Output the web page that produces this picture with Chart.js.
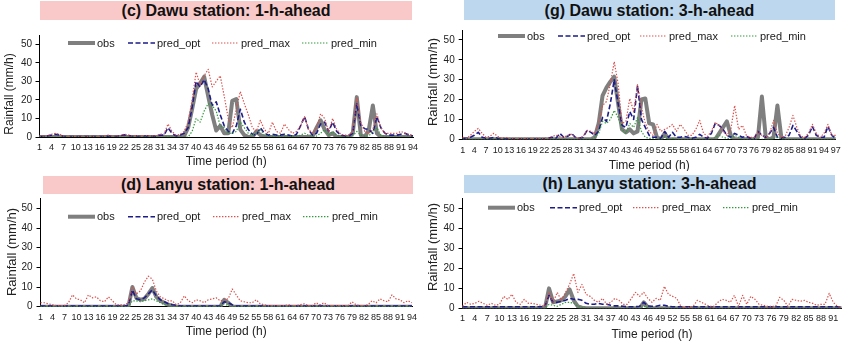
<!DOCTYPE html>
<html>
<head>
<meta charset="utf-8">
<script src="https://cdn.jsdelivr.net/npm/chart.js@4/dist/chart.umd.min.js"></script>
<style>
  html, body { margin: 0; padding: 0; background: #fff; }
  #wrap { position: relative; width: 850px; height: 342px; overflow: hidden;
          font-family: "Liberation Sans", Arial, sans-serif; }
  #wrap canvas { position: absolute; }
  .ttl { position: absolute; z-index: 2; font-weight: bold; font-size: 16px;
         text-align: center; color: #111; white-space: nowrap; }
</style>
</head>
<body>
<div id="wrap">
  <div class="ttl" style="left:40px;top:1px;width:372px;height:19px;line-height:20px;background:#f9c9c9">(c) Dawu station: 1-h-ahead</div>
  <div class="ttl" style="left:464px;top:0px;width:371px;height:20px;line-height:21px;background:#bdd7ee">(g) Dawu station: 3-h-ahead</div>
  <div class="ttl" style="left:43px;top:176px;width:370px;height:18px;line-height:18px;background:#f9c9c9">(d) Lanyu station: 1-h-ahead</div>
  <div class="ttl" style="left:464px;top:175px;width:371px;height:18px;line-height:18px;background:#bdd7ee">(h) Lanyu station: 3-h-ahead</div>
  <canvas id="cvC" width="425" height="171" style="left:0;top:0"></canvas>
  <canvas id="cvG" width="425" height="171" style="left:425px;top:0"></canvas>
  <canvas id="cvD" width="425" height="171" style="left:0;top:171px"></canvas>
  <canvas id="cvH" width="425" height="171" style="left:425px;top:171px"></canvas>
</div>
<script>
// ---- Hourly rainfall (mm/h) ----

// Dawu station, 1-h-ahead (94 h)
const dawu1Obs = [
  0,0,0,0,0,0,0,0,0,0,
  0,0,0,0,0,0,0,0,0,0,
  0,0,0,0,0,0,0,0,0,0,
  0,0,0,0,0,0,0.5,5,15,26,
  29,32.5,22,12,3.5,6,2,2,19.5,20.5,
  4,1,0,0,3,1,0,0,0,0,
  0,0,0,0,0,0,0,0,0.5,5,
  9,4,1,2,0,0,0,0,2,21.5,
  1,0,4,17,2,0,0,0,0,0,
  0,0,0,0
];
const dawu1Opt = [
  0.3,0.3,0.5,1,1.5,1,0.3,0.2,0.2,0.2,
  0.2,0.2,0.2,0.2,0.2,0.2,0.3,0.5,0.3,0.3,
  0.5,1.2,1,0.3,0.5,0.3,0.5,0.5,0.3,0.5,
  1,1,5,2,0.5,1,2,5,16,30,
  27,31,26,17,19,12,6,3,2,6,
  15,8,4,1.5,1,5,2,1,1.5,1,
  1,1.5,1,0.5,1.5,6,11,4,1,2,
  7,8,3,8,3,1,0.5,0.5,2,18,
  6,4.5,4,2,11,5,2,1,1,1,
  1.5,2,1,0.5
];
const dawu1Max = [
  0.5,0.5,0.8,1.5,2,1.5,0.5,0.3,0.3,0.3,
  0.3,0.3,0.3,0.3,0.3,0.3,0.5,1,0.5,0.5,
  0.8,1.5,1.2,0.5,0.8,0.5,0.8,0.8,0.5,0.8,
  1.5,1.5,7,3,1,1.5,3,8,20,35,
  28,33,36.5,27,30,33,22,10,5,15,
  24.5,18,12,5,3,9,4,2,8,3,
  2,7,4,2,3,6,11,4,2,5,
  12.5,10,3,10,4,1.5,1,1,3,21.5,
  8,3,2,4,12.5,5,2,2,2,2,
  3,2,1.5,1
];
const dawu1Min = [
  0,0,0,0,0,0,0,0,0,0,
  0,0,0,0,0,0,0,0,0,0,
  0,0,0,0,0,0,0,0,0,0,
  0,0,0.5,0,0,0,0,0,3,10,
  8,14,18,17,14,6,5,2,2,3,
  8,5,2,1,2,4,1,0.5,0.5,0.5,
  0.5,0.5,0.5,0.3,0.5,1,2,1,0.3,0.5,
  2,4,1,3,1,0.3,0,0,0.5,3,
  1,0.5,0.5,3,5,1,0.3,0,0,0,
  0,0,0,0
];

// Dawu station, 3-h-ahead (97 h)
const dawu3Obs = [
  0,0,0,0,0,0,0,0,0,0,
  0,0,0,0,0,0,0,0,0,0,
  0,0,0,0,0,0,0,0,0,0,
  0,0,0,0,1,8,22,26,29,31.5,
  18,5,3.5,5,3,4,20,20.5,8,7.5,
  1,0,3,0,0,0,0,0,0,0,
  0,0,0,0,0,0,3,6,9,2,
  0,0,0,0,0,0,1,21.5,1,0,
  1,17,1,0,0,0,0,0,0,0,
  0,0,0,0,0,0,0
];
const dawu3Opt = [
  0.5,0.5,1,2,3.5,1,0.5,0.5,1,0.5,
  0.3,0.3,0.3,0.3,0.3,0.3,0.3,0.3,0.3,0.3,
  0.3,0.3,0.5,1,0.5,3,1,1.5,3,1,
  0.5,1,4.5,3.5,2,4,11,9,18,30,
  18,7,6,14,10,27,10,6,2,1,
  1,0.5,4,1,3.5,1,1,1.5,1,0.5,
  1,2.5,1,0.5,3,8,7,5,2,1,
  3,2,1,1.5,0.5,0.5,4,2,1,3,
  6,1,0.5,1,2,7,4,1,0.5,2,
  6.5,2,1,1,6.5,2,0.5
];
const dawu3Max = [
  1,0.5,2,4,5.5,3,1,1.5,3,1.5,
  0.5,1,0.5,0.5,0.5,0.5,0.5,0.5,0.5,0.5,
  0.5,0.5,0.5,1.5,2,1.5,1,2,2.5,1,
  0.5,1.5,4.5,4,3,8,17,19,28,39,
  28,8,9,20.5,14,27.5,16,8,4,2,
  7.5,4,5,6,7.5,4,7.5,5,2,2,
  5,9.5,3,1.5,4,8.5,7,4,2,5,
  17,5,7,2,1,1,4,2,1,3,
  9.5,3,1,1.5,6,12,6,1.5,1,3,
  7.5,3,1,3,7.5,2,2
];
const dawu3Min = [
  0,0,0,0,0,0,0,0,0,0,
  0,0,0,0,0,0,0,0,0,0,
  0,0,0,0,0,0,0,0,0,0,
  0,0,0,0,1,3,9,8,10,14.5,
  11,5,3,8,6,11,4,1,0.5,0.3,
  0,0,1,0,0.5,0,0,0,0,0,
  0,0,0,0,0,1,2,1,0.5,0.5,
  2,1,0,0,0,0,0,0,0,0,
  0.5,1,0.3,0,0,0,0,0,0,0,
  0,0,0,0,0,0,0
];

// Lanyu station, 1-h-ahead (94 h)
const lanyu1Obs = [
  0,0,0,0,0,0,0,0,0,0,
  0,0,0,0,0,0,0,0,0,0,
  0,0,0,10,4.5,3.5,4,6.5,9.5,5,
  3,2,1,0.5,0,0,0,0,0,0,
  0,0,0,0,0,0,3.5,2,0,0,
  0,0,0,0,0,0,0,0,0,0,
  0,0,0,0,0,0,0,0,0,0,
  0,0,0,0,0,0,0,0,0,0,
  0,0,0,0,0,0,0,0,0,0,
  0,0,0,0
];
const lanyu1Opt = [
  0.3,0.3,0.3,0.3,0.3,0.3,0.3,0.3,0.3,0.3,
  0.3,0.3,0.3,0.3,0.3,0.3,0.3,0.3,0.3,0.3,
  0.3,0.3,0.8,8.5,4,3.5,4.5,6.5,8.5,5.5,
  3.5,2.5,1.5,1,0.8,0.3,0.3,0.3,0.3,0.3,
  0.3,0.3,0.3,0.3,0.3,0.3,2.5,2,1,0.3,
  0.3,0.3,0.3,0.3,0.3,0.3,0.3,0.3,0.3,0.3,
  0.3,0.3,0.3,0.3,0.3,0.3,0.3,0.3,0.3,0.3,
  0.3,0.3,0.3,0.3,0.3,0.3,0.3,0.3,0.3,0.3,
  0.3,0.3,0.3,0.3,0.3,0.3,0.3,0.3,0.3,0.3,
  0.3,0.3,0.3,0.3
];
const lanyu1Max = [
  2,2,1.5,1,0.5,0.5,0.5,2,6,4,
  3.5,2,6,4.5,5,3,2.5,5,3,1,
  1,1,2,10,6.5,8,12.5,15.5,14,8,
  5,4,3,3,1,2,5.5,3,2,3.5,
  3,2,3.5,4,4.5,3,3.5,4,9,6,
  3,2.5,2,2,3.5,1.5,1,0.5,0.5,0.5,
  0.5,0.5,1,0.5,0.5,1,1.5,0.5,0.5,2,
  1,2,0.5,0.5,0.5,0.5,0.5,0.5,2.5,1,
  0.5,0.5,1,3,2,4,3,2.5,6,4,
  3.5,2,3,2
];
const lanyu1Min = [
  0,0,0,0,0,0,0,0,0,0,
  0,0,0,0,0,0,0,0,0,0,
  0,0,0,3,3,2.5,3,3.5,4,3,
  2,1,0.5,0,0,0,0,0,0,0,
  0,0,0,0,0,0,1.5,0.5,0,0,
  0,0,0,0,0,0,0,0,0,0,
  0,0,0,0,0,0,0,0,0,0,
  0,0,0,0,0,0,0,0,0,0,
  0,0,0,0,0,0,0,0,0,0,
  0,0,0,0
];

// Lanyu station, 3-h-ahead (93 h)
const lanyu3Obs = [
  0,0,0,0,0,0,0,0,0,0,
  0,0,0,0,0,0,0,0,0,0,
  0,10,3,3.5,4,6,9.5,4,1,0.3,
  0,0,0,0,0,0,0,0,0,0,
  0,0,0,0,3,0.5,0,0,0,0,
  0,0,0,0,0,0,0,0,0,0,
  0,0,0,0,0,0,0,0,0,0,
  0,0,0,0,0,0,0,0,0,0,
  0,0,0,0,0,0,0,0,0,0,
  0,0,0
];
const lanyu3Opt = [
  0.8,0.8,0.8,0.8,0.8,0.8,0.8,0.8,0.8,0.8,
  0.8,0.8,0.8,0.8,0.8,0.8,0.8,0.8,0.8,0.8,
  1,6.5,3,3,3.5,4,5,4.5,4.5,4,
  2.5,2,2,2.5,2,2,1.5,1.2,1.2,1,
  0.8,0.8,0.8,1,3,1.2,1,1,1.5,1.5,
  1,0.8,0.8,0.8,0.8,0.8,0.8,0.8,0.8,0.8,
  0.8,0.8,0.8,0.8,0.8,0.8,0.8,0.8,0.8,0.8,
  0.8,0.8,0.8,0.8,0.8,0.8,0.8,0.8,0.8,0.8,
  0.8,0.8,0.8,0.8,0.8,0.8,0.8,0.8,0.8,0.8,
  0.8,0.8,0.8
];
const lanyu3Max = [
  1,3,2,2.5,3.5,2.5,1.5,2.5,1.5,2,
  6,4.5,7,3,2,4.5,2.5,2.5,2,1.5,
  1,8,3,8,4,8,12,17.5,8,12,
  7,6,4,3,5,2,3,5,4,2,
  2,5,8,6,8,5,3,5,4,11,
  7,6,5,1,0.5,0.5,1,4,3,2,
  1,1,3,4.5,4,3,6.5,1,6.5,2,
  6,4.5,2,1.5,1,1,1,5.5,4,1,
  4.5,4,3.5,4,3,2.5,1.5,2,2,7.5,
  3,1,0.5
];
const lanyu3Min = [
  0,0,0,0,0,0,0,0,0,0,
  0,0,0,0,0,0,0,0,0,0,
  0,2,1.5,1,2,3,3,2.5,1,0.5,
  0,0,0,0,0,0,0,0,0,0,
  0,0,0,0,1,0.3,0,0,0,0,
  0,0,0,0,0,0,0,0,0,0,
  0,0,0,0,0,0,0,0,0,0,
  0,0,0,0,0,0,0,0,0,0,
  0,0,0,0,0,0,0,0,0,0,
  0,0,0
];

// Hour indices for the category axes; every third one is labelled
const hoursOf = series => series.map((_, i) => String(i + 1));
const seriesNames = ['obs', 'pred_opt', 'pred_max', 'pred_min'];
const yTicksLabelled = [0, 10, 20, 30, 40, 50];

// ---- Styling ----
const FONT = '"Liberation Sans", Arial, sans-serif';
const lineStyles = [
  { color: '#7f7f7f', width: 4,   dash: [] },
  { color: '#1d1d8a', width: 1.6, dash: [5, 2.5] },
  { color: '#d9504c', width: 1.2, dash: [1.4, 1.6] },
  { color: '#2f9a3a', width: 1.2, dash: [1.4, 1.6] }
];

// Legend drawn inside the plot area, at the top
const insideLegend = {
  id: 'insideLegend',
  afterDatasetsDraw(chart, args, o) {
    const ctx = chart.ctx;
    ctx.save();
    ctx.font = '11px ' + FONT;
    ctx.textBaseline = 'middle';
    ctx.textAlign = 'left';
    chart.data.datasets.forEach((ds, i) => {
      const x0 = o.xs[i];
      ctx.beginPath();
      ctx.strokeStyle = ds.borderColor;
      ctx.lineWidth = ds.borderWidth;
      ctx.setLineDash(ds.borderDash || []);
      ctx.moveTo(x0, o.y);
      ctx.lineTo(x0 + o.len, o.y);
      ctx.stroke();
      ctx.setLineDash([]);
      ctx.fillStyle = '#1a1a1a';
      ctx.fillText(ds.label, x0 + o.len + 2, o.y + 0.5);
    });
    ctx.restore();
  }
};

// Axis titles
const axisTitles = {
  id: 'axisTitles',
  afterDraw(chart, args, o) {
    const ctx = chart.ctx;
    const a = chart.chartArea;
    ctx.save();
    ctx.fillStyle = '#222';
    ctx.textAlign = 'center';
    ctx.textBaseline = 'middle';
    ctx.font = '12px ' + FONT;
    ctx.fillText(o.xText, (a.left + a.right) / 2, o.xY);
    ctx.font = o.ySize + 'px ' + FONT;
    ctx.translate(o.yPos[0], o.yPos[1]);
    ctx.rotate(-Math.PI / 2);
    ctx.fillText(o.yText, 0, 0);
    ctx.restore();
  }
};

function makePanel(canvasId, series, g) {
  const labels = hoursOf(series[0]);
  const datasets = series.map((vals, i) => ({
    label: seriesNames[i],
    data: vals,
    borderColor: lineStyles[i].color,
    borderWidth: lineStyles[i].width,
    borderDash: lineStyles[i].dash,
    pointRadius: 0,
    pointHoverRadius: 0,
    fill: false,
    tension: 0,
    borderJoinStyle: 'round',
    order: 4 - i
  }));
  return new Chart(document.getElementById(canvasId), {
    type: 'line',
    data: { labels, datasets },
    plugins: [insideLegend, axisTitles],
    options: {
      responsive: false,
      maintainAspectRatio: false,
      animation: false,
      devicePixelRatio: 1,
      layout: { padding: { left: 0, top: g.padTop, right: g.padRight, bottom: 0 } },
      plugins: {
        legend: { display: false },
        tooltip: { enabled: false },
        insideLegend: { xs: g.legendX, y: g.legendY, len: 27 },
        axisTitles: { xText: 'Time period (h)', yText: 'Rainfall (mm/h)', xY: g.xTitleY, yPos: g.yTitle, ySize: g.yTitleSize }
      },
      scales: {
        x: {
          type: 'category',
          offset: false,
          grid: { display: false, drawTicks: false },
          border: { display: true, color: '#000', width: 1 },
          ticks: {
            autoSkip: false, maxRotation: 0, minRotation: 0,
            padding: g.xTickPad, color: '#222',
            font: { size: 9, family: FONT },
            callback(v, i) { return i % 3 === 0 ? this.getLabelForValue(v) : ''; }
          },
          afterFit(s) { s.height = g.xH; }
        },
        y: {
          min: 0, max: 55,
          grid: { drawOnChartArea: false, drawTicks: true, tickLength: 4, color: '#000', lineWidth: 1 },
          border: { display: true, color: '#000', width: 1 },
          ticks: {
            stepSize: 5, padding: g.yTickPad, color: '#222',
            font: { size: 10, family: FONT },
            callback: v => (yTicksLabelled.includes(v) ? String(v) : '')
          },
          afterFit(s) { s.width = g.yW; }
        }
      }
    }
  });
}

makePanel('cvC', [dawu1Obs, dawu1Opt, dawu1Max, dawu1Min], {
  yW: 39.5, padTop: 35, padRight: 12, xH: 34, xTickPad: 5, yTickPad: 3.5,
  legendX: [68, 128, 212, 302], legendY: 43, xTitleY: 162, yTitle: [10, 94], yTitleSize: 12
});
makePanel('cvG', [dawu3Obs, dawu3Opt, dawu3Max, dawu3Min], {
  yW: 37.7, padTop: 30, padRight: 14.3, xH: 31.7, xTickPad: 6, yTickPad: 4,
  legendX: [73, 133, 215, 306], legendY: 36, xTitleY: 165.5, yTitle: [8, 82], yTitleSize: 13
});
makePanel('cvD', [lanyu1Obs, lanyu1Opt, lanyu1Max, lanyu1Min], {
  yW: 40.5, padTop: 27.5, padRight: 13, xH: 35.3, xTickPad: 5.6, yTickPad: 4,
  legendX: [68, 128, 213, 303], legendY: 45.7, xTitleY: 161, yTitle: [12, 81], yTitleSize: 13
});
makePanel('cvH', [lanyu3Obs, lanyu3Opt, lanyu3Max, lanyu3Min], {
  yW: 37.5, padTop: 27.8, padRight: 8.5, xH: 33.7, xTickPad: 5, yTickPad: 4,
  legendX: [63, 125, 208, 298], legendY: 36.7, xTitleY: 164, yTitle: [8, 76], yTitleSize: 13
});
</script>
</body>
</html>
